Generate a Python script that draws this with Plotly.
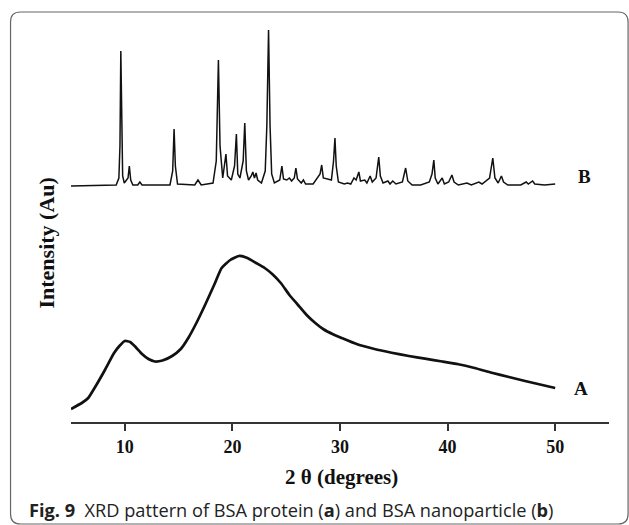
import plotly.graph_objects as go

# ---- data ----
# A: BSA protein (amorphous), intensity in arbitrary units
a_theta = [5.0, 6.0, 6.6, 7.3, 8.1, 9.0, 9.5, 10.0, 10.5, 11.0, 11.6, 12.2, 12.8, 13.5,
           14.4, 15.2, 15.9, 16.7, 17.5, 18.3, 19.0, 19.8, 20.6, 21.4, 22.2, 23.0, 23.7,
           24.5, 25.3, 26.1, 26.9, 27.7, 28.5, 29.3, 30.1, 31.6, 33.2, 34.8, 36.4, 37.9,
           39.5, 41.0, 42.5, 44.1, 45.7, 47.2, 48.8, 50.0]
a_int = [13, 19, 24, 36, 51, 69, 76, 81, 80, 75, 68, 63, 60.5, 61.5,
         66, 73, 84, 100, 118, 137, 154, 162, 166, 164, 159, 154, 148,
         139, 127, 117, 107, 99, 92.5, 88, 84.3, 77.7, 73, 69.3, 66, 63.3,
         60.5, 57.7, 54, 49.3, 45, 41, 37, 34]

# B: BSA nanoparticle (crystalline), intensity above its own baseline
b_theta = [5.0, 8.0, 9.2, 9.45, 9.55, 9.63, 9.72, 9.8, 9.95, 10.3, 10.42, 10.55, 10.75,
           11.2, 11.4, 11.6, 14.2, 14.45, 14.58, 14.7, 14.9, 16.5, 16.8, 17.1,
           18.2, 18.5, 18.7, 18.85, 19.1, 19.4, 19.55, 19.9, 20.2, 20.37, 20.5, 20.7,
           21.0, 21.15, 21.3, 21.5, 21.75, 21.9, 22.05, 22.2, 22.35, 22.7,
           23.05, 23.2, 23.36, 23.5, 23.65, 23.9, 24.4, 24.6, 24.75, 25.05, 25.3, 25.5,
           25.75, 25.9, 26.05, 26.4, 26.6, 26.8, 27.5, 27.9, 28.15, 28.3, 28.45,
           29.2, 29.4, 29.53, 29.65, 29.85, 30.4, 30.7, 31.0, 31.3, 31.5, 31.75, 31.9,
           32.3, 32.5, 32.8, 33.0, 33.35, 33.6, 33.75, 34.0, 34.45, 34.65, 34.9, 35.2,
           35.8, 36.1, 36.3, 36.7, 37.5, 38.3, 38.55, 38.72, 38.85, 39.1, 39.5, 39.7,
           40.1, 40.4, 40.6, 41.0, 41.8, 42.2, 42.9, 43.2, 43.9, 44.2, 44.4, 44.7,
           45.0, 45.2, 45.6, 46.8, 47.3, 47.5, 47.9, 48.1, 49.0, 49.6, 50.0]
b_int = [0, 0.5, 1, 8, 40, 135, 60, 10, 3, 8, 20, 6, 1,
         1, 4, 1, 1, 15, 57, 20, 2, 1, 6, 1,
         3, 25, 126, 40, 8, 32, 10, 6, 20, 52, 12, 8,
         25, 63, 15, 6, 10, 14, 8, 13, 6, 3,
         15, 60, 156, 60, 12, 3, 6, 20, 7, 6, 8, 5,
         8, 18, 7, 3, 6, 2, 2, 9, 12, 21, 8,
         6, 25, 48, 20, 4, 2, 3, 2, 8, 6, 14, 5,
         6, 3, 10, 4, 8, 29, 10, 3, 5, 2, 5, 2,
         4, 18, 5, 1, 1, 4, 12, 26, 8, 2, 8, 2,
         4, 11, 4, 1, 3, 1, 4, 2, 8, 28, 8, 3,
         10, 4, 1, 1, 4, 2, 5, 2, 1, 2, 2]
b_offset = 236  # vertical stacking offset of pattern B

tick_vals = [10, 20, 30, 40, 50]
tick_text = ["10", "20", "30", "40", "50"]

# ---- layout geometry (pixels) ----
W, H = 629, 525
ML, MR, MT, MB = 70.5, 20.1, 22, 103
PW, PH = W - ML - MR, H - MT - MB


def px_x(p):
    return (p - ML) / PW


def px_y(p):
    return (H - MB - p) / PH


SERIF = "Liberation Serif, Times New Roman, serif"
SANS = "Open Sans, Noto Sans, sans-serif"

fig = go.Figure()
fig.add_trace(go.Scatter(x=a_theta, y=a_int, mode="lines",
                         line=dict(color="#111111", width=2.7, shape="spline", smoothing=0.5),
                         name="A", hoverinfo="skip"))
fig.add_trace(go.Scatter(x=b_theta, y=[v + b_offset for v in b_int], mode="lines",
                         line=dict(color="#111111", width=1.5),
                         name="B", hoverinfo="skip"))

fig.update_layout(
    width=W, height=H,
    margin=dict(l=ML, r=MR, t=MT, b=MB),
    paper_bgcolor="white", plot_bgcolor="white",
    showlegend=False,
    xaxis=dict(range=[5, 55], tickvals=tick_vals, ticktext=tick_text,
               showline=True, linecolor="#333333", linewidth=2,
               ticks="outside", ticklen=7, tickwidth=1.5, tickcolor="#333333",
               showgrid=False, zeroline=False,
               tickfont=dict(family=SERIF, size=18, color="#111111", weight="bold")),
    yaxis=dict(range=[0, 400], showline=False, showticklabels=False, ticks="",
               showgrid=False, zeroline=False),
)

annotations = [
    dict(text="2 θ (degrees)", x=px_x(341), y=px_y(477), xref="paper", yref="paper",
         showarrow=False, xanchor="center", yanchor="middle",
         font=dict(family=SERIF, size=21, color="#111111", weight="bold")),
    dict(text="Intensity (Au)", x=px_x(45), y=px_y(243), xref="paper", yref="paper",
         showarrow=False, xanchor="center", yanchor="middle", textangle=-90,
         font=dict(family=SERIF, size=22, color="#111111", weight="bold")),
    dict(text="B", x=px_x(584), y=px_y(177), xref="paper", yref="paper",
         showarrow=False, xanchor="center", yanchor="middle",
         font=dict(family=SERIF, size=19, color="#111111", weight="bold")),
    dict(text="A", x=px_x(581), y=px_y(388), xref="paper", yref="paper",
         showarrow=False, xanchor="center", yanchor="middle",
         font=dict(family=SERIF, size=19, color="#111111", weight="bold")),
    dict(text="<b>Fig. 9</b>  XRD pattern of BSA protein (<b>a</b>) and BSA nanoparticle (<b>b</b>)",
         x=px_x(26), y=px_y(510), xref="paper", yref="paper",
         showarrow=False, xanchor="left", yanchor="middle",
         font=dict(family=SANS, size=18.2, color="#222222")),
]
fig.update_layout(annotations=annotations)

# rounded border box around the figure
L, T, R, Bt, r = 10, 12, 628, 524, 10
path = (f"M {px_x(L + r)},{px_y(T)} L {px_x(R - r)},{px_y(T)} "
        f"Q {px_x(R)},{px_y(T)} {px_x(R)},{px_y(T + r)} "
        f"L {px_x(R)},{px_y(Bt - r)} Q {px_x(R)},{px_y(Bt)} {px_x(R - r)},{px_y(Bt)} "
        f"L {px_x(L + r)},{px_y(Bt)} Q {px_x(L)},{px_y(Bt)} {px_x(L)},{px_y(Bt - r)} "
        f"L {px_x(L)},{px_y(T + r)} Q {px_x(L)},{px_y(T)} {px_x(L + r)},{px_y(T)} Z")
fig.add_shape(type="path", path=path, xref="paper", yref="paper",
              line=dict(color="#666666", width=1.2), layer="above")

fig.write_html("out.html", config={"displayModeBar": False},
               post_script="document.body.style.margin='0';document.body.style.overflow='hidden';")
